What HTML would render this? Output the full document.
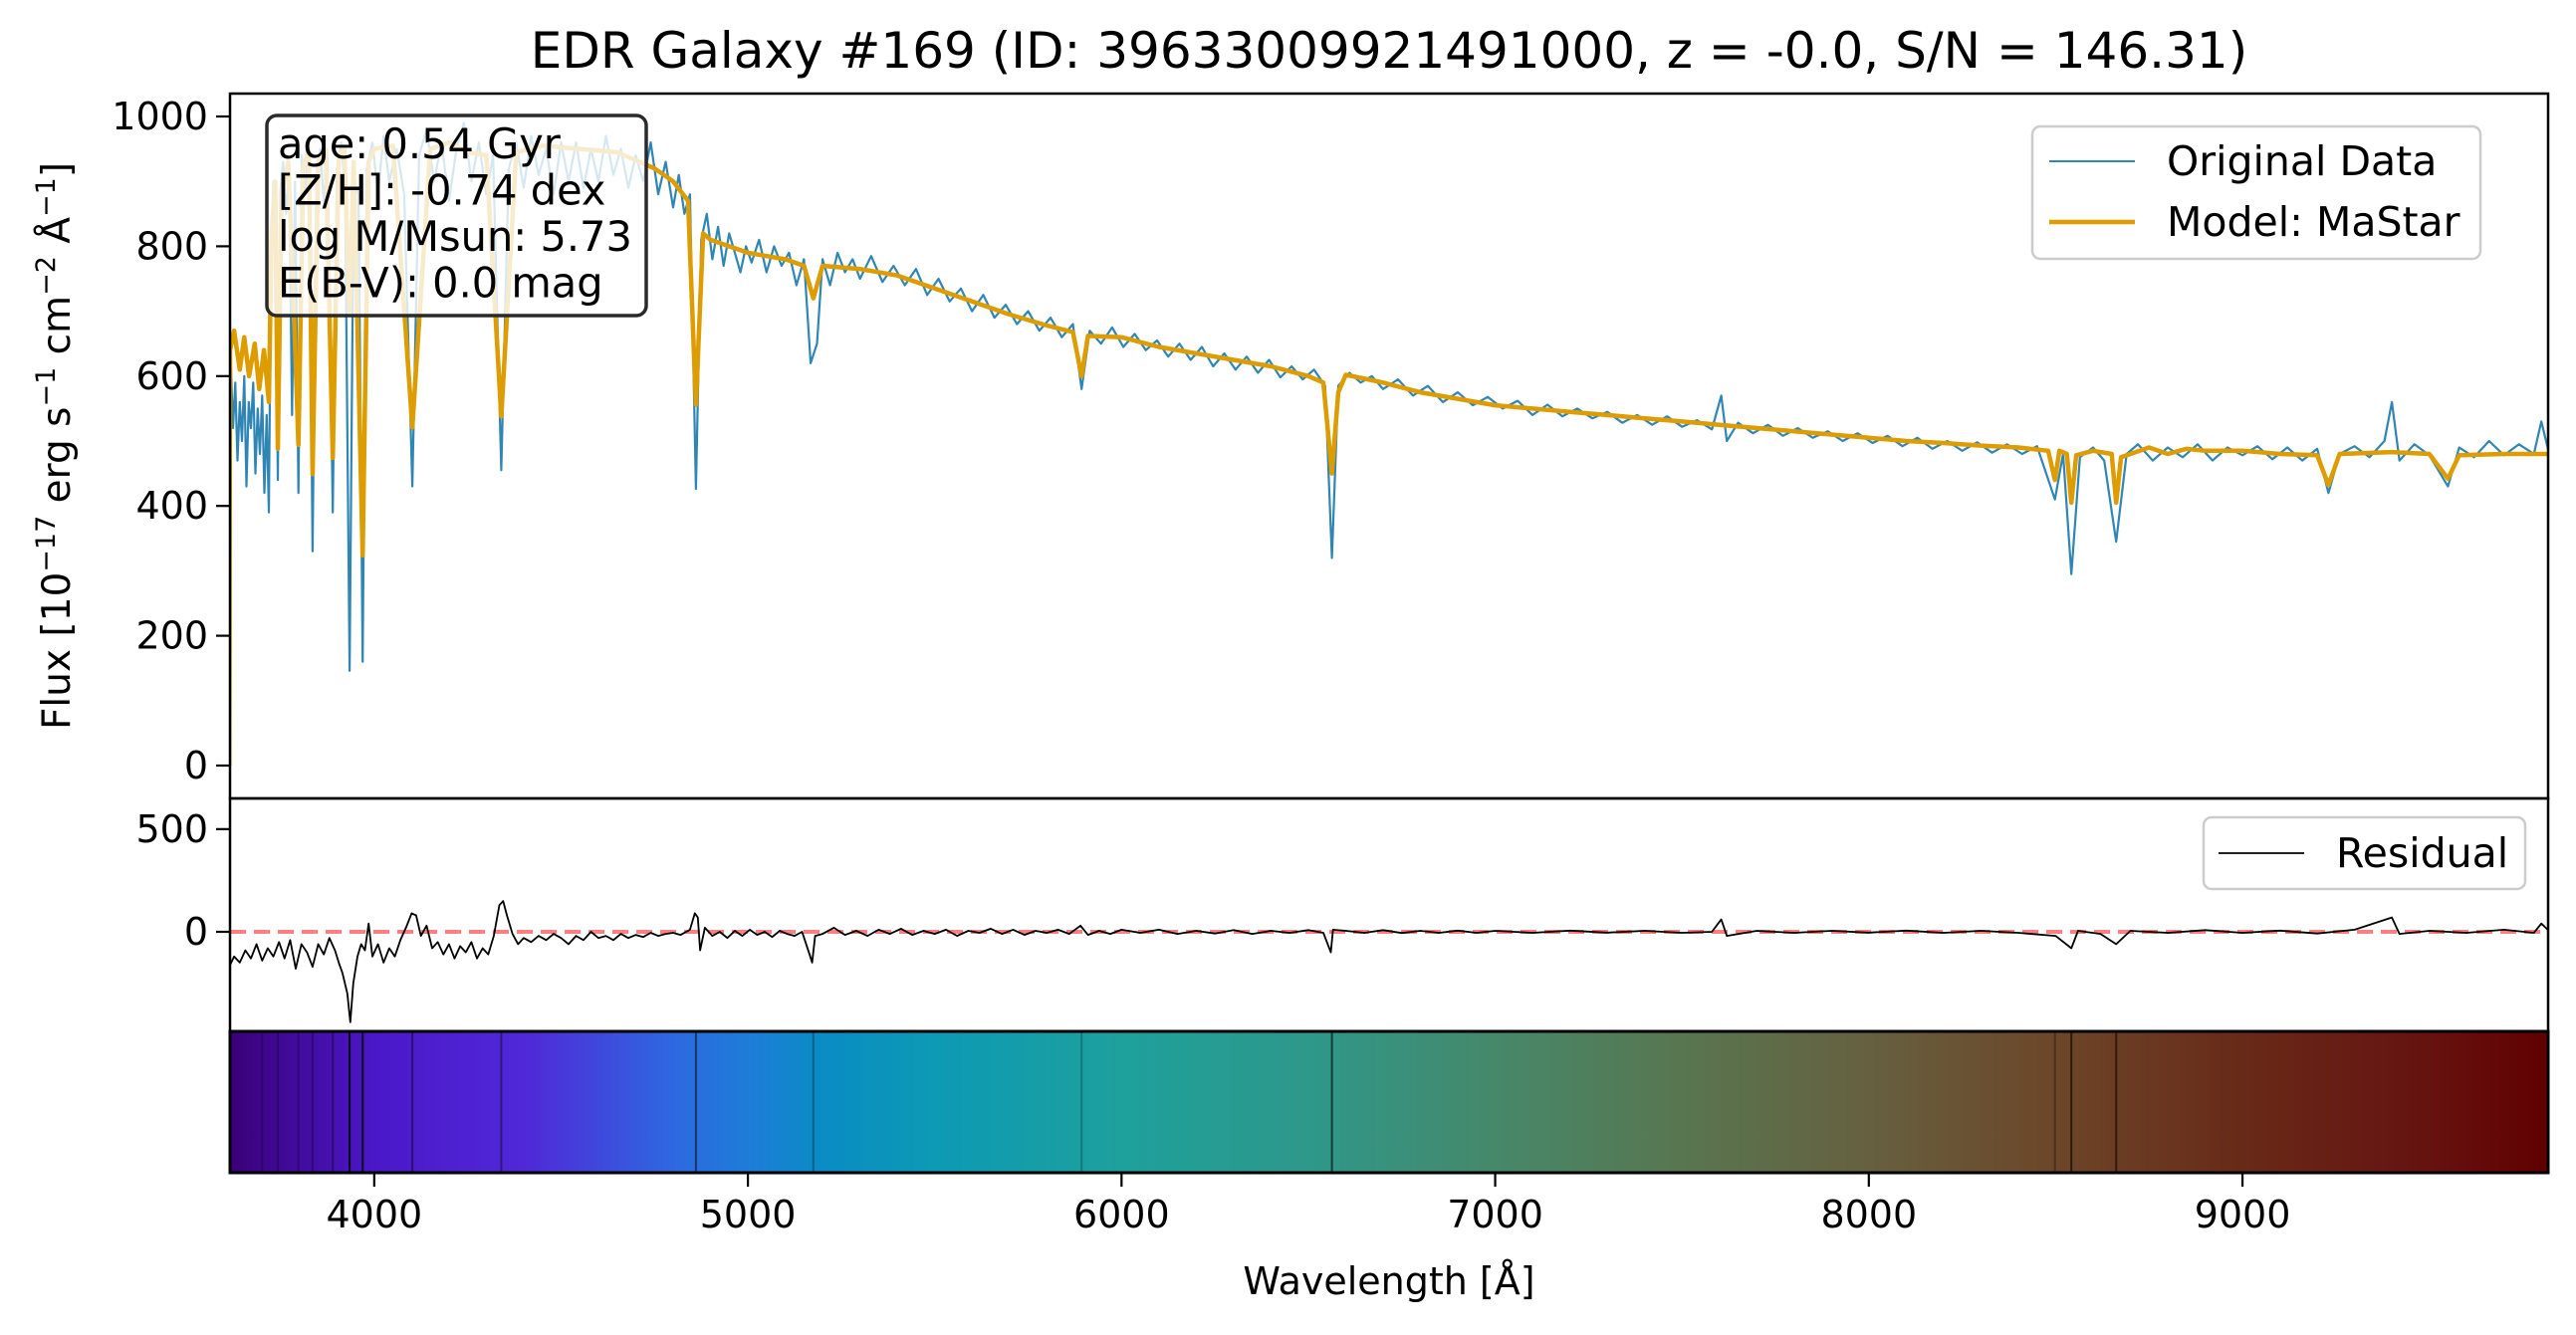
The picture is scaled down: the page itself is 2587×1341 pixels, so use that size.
<!DOCTYPE html>
<html><head><meta charset="utf-8">
<style>
html,body{margin:0;padding:0;background:#fff;}
svg{display:block;font-family:"DejaVu Sans","Liberation Sans",sans-serif;}
</style></head>
<body>
<svg id="chart" width="2587" height="1341" viewBox="0 0 2587 1341" xmlns="http://www.w3.org/2000/svg">
<defs>
<linearGradient id="specgrad" x1="231" x2="2559" y1="0" y2="0" gradientUnits="userSpaceOnUse">
<stop offset="0" stop-color="#3a0078"/>
<stop offset="0.062" stop-color="#4a18c8"/>
<stop offset="0.127" stop-color="#5028d8"/>
<stop offset="0.191" stop-color="#2e68e0"/>
<stop offset="0.223" stop-color="#1e7cd8"/>
<stop offset="0.256" stop-color="#0a8cc4"/>
<stop offset="0.304" stop-color="#0c9ab4"/>
<stop offset="0.385" stop-color="#1ea09c"/>
<stop offset="0.465" stop-color="#2e988a"/>
<stop offset="0.546" stop-color="#46886a"/>
<stop offset="0.626" stop-color="#587650"/>
<stop offset="0.707" stop-color="#666040"/>
<stop offset="0.788" stop-color="#6c4628"/>
<stop offset="0.868" stop-color="#682a18"/>
<stop offset="0.949" stop-color="#661210"/>
<stop offset="1" stop-color="#600000"/>
</linearGradient>
<clipPath id="clipTop"><rect x="231" y="94" width="2328" height="708"/></clipPath>
<clipPath id="clipRes"><rect x="231" y="802" width="2328" height="234"/></clipPath>
</defs>
<text x="1395" y="68" font-size="50" text-anchor="middle">EDR Galaxy #169 (ID: 39633009921491000, z = -0.0, S/N = 146.31)</text>
<g id="topPanel"></g>
<g id="resPanel"></g>
<g id="barPanel"></g>
<g id="xaxis"></g>
<text transform="translate(70,448) rotate(-90)" font-size="39" text-anchor="middle">Flux [10<tspan baseline-shift="super" font-size="27">−17</tspan> erg s<tspan baseline-shift="super" font-size="27">−1</tspan> cm<tspan baseline-shift="super" font-size="27">−2</tspan> Å<tspan baseline-shift="super" font-size="27">−1</tspan>]</text>
<text x="1395" y="1300" font-size="38" text-anchor="middle">Wavelength [Å]</text>
</svg>
<script>
const modelWave=[3612,3614,3625,3640,3652,3665,3680,3692,3705,3718,3725,3735,3742,3752,3770,3785,3797,3810,3825,3835,3850,3870,3889,3905,3920,3934,3945,3969,3985,4000,4050,4102,4150,4200,4250,4300,4340,4380,4450,4550,4650,4750,4800,4840,4861,4880,4900,4950,5000,5050,5100,5150,5175,5200,5300,5400,5500,5600,5700,5800,5870,5893,5910,6000,6100,6200,6300,6400,6500,6540,6563,6580,6600,6700,6800,6900,7000,7100,7200,7300,7400,7500,7600,7700,7800,7900,8000,8100,8200,8300,8400,8480,8498,8510,8530,8542,8555,8600,8650,8662,8675,8750,8800,8850,8900,9000,9100,9200,9230,9260,9400,9500,9550,9580,9700,9820];
const modelFlux=[0,640,670,610,660,600,650,580,640,560,820,900,488,880,930,700,494,920,950,449,930,950,474,940,950,700,930,324,930,950,955,521,950,960,945,940,538,945,955,950,945,920,900,870,556,820,810,800,790,785,780,770,720,770,765,755,735,715,695,678,668,600,662,660,645,635,625,615,600,590,450,575,602,590,575,565,555,550,545,540,535,530,525,520,515,510,505,500,497,493,490,485,440,485,480,405,478,485,480,405,475,490,480,488,485,485,480,478,432,480,483,480,442,478,480,480];
const dataWave=[3612,3616,3622,3628,3634,3640,3646,3652,3658,3664,3670,3676,3682,3688,3694,3700,3706,3712,3718,3724,3730,3736,3742,3748,3756,3764,3772,3780,3788,3797,3806,3815,3825,3835,3845,3855,3865,3875,3889,3900,3912,3922,3934,3945,3958,3969,3980,3995,4010,4025,4040,4060,4080,4102,4120,4140,4160,4180,4200,4220,4240,4260,4280,4300,4318,4340,4360,4380,4400,4420,4440,4460,4480,4500,4520,4540,4560,4580,4600,4620,4640,4660,4680,4700,4720,4740,4760,4780,4800,4815,4830,4845,4861,4875,4890,4905,4920,4935,4950,4965,4980,4995,5010,5030,5050,5070,5090,5110,5130,5150,5168,5185,5200,5220,5240,5260,5280,5300,5330,5360,5390,5420,5450,5480,5510,5540,5570,5600,5630,5660,5690,5720,5750,5780,5810,5840,5870,5893,5915,5945,5975,6005,6035,6065,6095,6125,6155,6185,6215,6245,6275,6305,6335,6365,6395,6425,6455,6485,6515,6545,6563,6580,6610,6640,6670,6700,6740,6780,6820,6860,6900,6940,6980,7020,7060,7100,7140,7180,7220,7260,7300,7340,7380,7420,7460,7500,7540,7580,7605,7620,7650,7690,7730,7770,7810,7850,7890,7930,7970,8010,8050,8090,8130,8170,8210,8250,8290,8330,8370,8410,8450,8498,8520,8542,8565,8600,8630,8662,8690,8720,8760,8800,8840,8880,8920,8960,9000,9040,9080,9120,9160,9200,9230,9260,9300,9340,9380,9400,9420,9460,9500,9550,9580,9620,9660,9700,9740,9780,9800,9820];
const dataFlux=[380,620,520,590,470,560,500,600,430,560,520,590,450,550,480,570,420,540,390,800,900,860,440,880,930,850,920,540,900,420,940,880,960,330,900,950,870,940,390,920,960,880,146,900,880,160,920,960,880,970,900,950,880,430,940,980,900,960,870,950,990,900,960,880,940,455,920,960,890,970,910,950,880,960,900,960,890,950,900,970,910,950,890,940,900,960,880,930,860,910,850,880,426,810,850,780,830,770,820,790,760,800,775,810,760,800,770,790,740,780,620,650,780,740,790,760,780,750,785,745,770,740,765,725,750,715,735,700,725,690,710,680,700,670,690,660,680,580,670,650,675,645,665,640,655,630,650,625,645,615,635,610,630,605,625,598,615,595,610,585,320,585,605,590,600,580,595,570,585,560,575,555,568,550,562,540,556,538,550,535,545,528,540,525,538,522,532,518,570,500,528,512,525,508,520,505,515,500,512,497,508,492,505,488,500,485,498,482,495,480,492,410,480,295,475,490,470,345,480,495,470,490,475,495,470,490,478,492,472,490,470,488,420,480,492,475,500,560,470,495,478,430,490,475,500,478,495,480,530,482];
const residWave=[3612,3625,3640,3655,3670,3685,3700,3715,3730,3745,3760,3775,3790,3805,3820,3835,3850,3865,3880,3895,3905,3915,3928,3936,3944,3955,3965,3975,3985,3995,4010,4025,4040,4055,4070,4085,4100,4112,4125,4140,4155,4170,4185,4200,4215,4230,4245,4260,4275,4290,4305,4320,4335,4345,4355,4370,4385,4400,4420,4440,4460,4480,4500,4520,4540,4560,4580,4600,4620,4640,4660,4680,4700,4720,4740,4760,4780,4800,4820,4845,4858,4866,4872,4885,4905,4925,4945,4965,4985,5005,5025,5045,5065,5085,5105,5125,5145,5165,5172,5180,5200,5230,5260,5290,5320,5350,5380,5410,5440,5470,5500,5530,5560,5590,5620,5650,5680,5710,5740,5770,5800,5830,5860,5890,5910,5940,5970,6000,6050,6100,6150,6200,6250,6300,6350,6400,6450,6500,6540,6560,6566,6600,6650,6700,6750,6800,6850,6900,6950,7000,7100,7200,7300,7400,7500,7580,7605,7620,7700,7800,7900,8000,8100,8200,8300,8400,8500,8542,8560,8620,8662,8700,8800,8900,9000,9100,9200,9300,9400,9420,9500,9600,9700,9780,9800,9820];
const residVal=[-170,-120,-150,-90,-130,-60,-140,-80,-120,-50,-130,-40,-180,-60,-100,-170,-60,-110,-30,-90,-150,-200,-300,-440,-250,-120,-60,-90,40,-120,-60,-150,-80,-120,-40,20,90,80,-20,30,-80,-50,-110,-60,-130,-70,-100,-50,-130,-80,-110,-20,130,150,80,-10,-60,-30,-50,-20,-40,-10,-30,-60,-20,-40,0,-30,-20,-40,-10,-30,-15,-25,-5,-20,-10,-5,-15,10,90,70,-90,20,-20,0,-30,5,-20,10,-15,0,-25,5,-10,-20,0,-110,-150,-20,-10,20,-15,5,-20,10,-10,15,-15,5,-10,10,-20,5,-5,15,-10,10,-15,5,-5,10,-10,30,-15,5,-10,10,-5,10,-10,5,-8,8,-10,5,-5,8,-5,-100,10,5,-5,8,-6,5,-5,6,-5,5,-5,6,-4,5,-5,0,60,-20,5,-5,5,-4,6,-5,5,-5,-20,-80,5,-10,-60,5,-5,8,-5,6,-8,10,70,-10,5,-5,10,-5,40,5];
const colorLines=[3700,3742,3797,3835,3889,3934,3969,4102,4340,4861,5175,5893,6563,8498,8542,8662];
const colorLineStrength=[0.2,0.25,0.25,0.3,0.35,0.9,0.85,0.45,0.4,0.5,0.3,0.25,0.6,0.3,0.6,0.55];
const xTicks=[4000,5000,6000,7000,8000,9000];
const yTicksTop=[0,200,400,600,800,1000];
const yTicksRes=[0,500];

const NS='http://www.w3.org/2000/svg';
const L=231,R=2559,T=94,MID=802,RB=1036,BB=1178;
const xMin=3614,xMax=9818;
function X(w){return L+(w-xMin)/(xMax-xMin)*(R-L);}
function YT(f){return 769-f*0.652;}
function YR(r){return 936-r*0.2063;}
function mk(tag,attrs,parent){const e=document.createElementNS(NS,tag);for(const k in attrs)e.setAttribute(k,attrs[k]);parent.appendChild(e);return e;}
function pathD(ws,vs,fy){let d='';for(let i=0;i<ws.length;i++){d+=(i?'L':'M')+X(ws[i]).toFixed(1)+','+fy(vs[i]).toFixed(1);}return d;}

const topG=document.getElementById('topPanel'),resG=document.getElementById('resPanel'),barG=document.getElementById('barPanel'),xaG=document.getElementById('xaxis');
const gt=mk('g',{'clip-path':'url(#clipTop)'},topG);
const dl=mk('path',{d:pathD(dataWave,dataFlux,YT),fill:'none',stroke:'#2f86b4','stroke-width':2.2,'stroke-linejoin':'round'},gt);


const ml=mk('path',{d:pathD(modelWave,modelFlux,YT),fill:'none',stroke:'#dd9c00','stroke-width':4.5,'stroke-linejoin':'round'},gt);


mk('rect',{x:L,y:T,width:R-L,height:MID-T,fill:'none',stroke:'#000','stroke-width':2.5},topG);
yTicksTop.forEach(v=>{
  const y=YT(v);
  mk('line',{x1:L-14,x2:L,y1:y,y2:y,stroke:'#000','stroke-width':2.2},topG);
  const t=mk('text',{x:L-22,y:y+13,'font-size':38,'text-anchor':'end'},topG);t.textContent=v;
  
  
});
const ib=mk('g',{},topG);


mk('rect',{x:268,y:116,width:381,height:201,rx:10,fill:'#fff','fill-opacity':0.8,stroke:'#2a2a2a','stroke-width':3.5},ib);
['age: 0.54 Gyr','[Z/H]: -0.74 dex','log M/Msun: 5.73','E(B-V): 0.0 mag'].forEach((s,i)=>{const t=mk('text',{x:279,y:159+i*46.5,'font-size':41.5},ib);t.textContent=s;});
const lg=mk('g',{},topG);


mk('rect',{x:2041,y:127,width:450,height:133,rx:8,fill:'#fff','fill-opacity':0.8,stroke:'#cccccc','stroke-width':2.5},lg);
mk('line',{x1:2058,x2:2144,y1:162,y2:162,stroke:'#2f86b4','stroke-width':2},lg);
mk('line',{x1:2058,x2:2144,y1:223,y2:223,stroke:'#dd9c00','stroke-width':4.5},lg);
let t1=mk('text',{x:2176,y:176,'font-size':41},lg);t1.textContent='Original Data';
let t2=mk('text',{x:2176,y:237,'font-size':41},lg);t2.textContent='Model: MaStar';

const gr=mk('g',{'clip-path':'url(#clipRes)'},resG);
mk('line',{x1:L,x2:R,y1:YR(0),y2:YR(0),stroke:'#ff0000','stroke-opacity':0.5,'stroke-width':4,'stroke-dasharray':'16,8'},gr);
const rl=mk('path',{d:pathD(residWave,residVal,YR),fill:'none',stroke:'#000','stroke-width':1.8,'stroke-linejoin':'round'},gr);


mk('rect',{x:L,y:MID,width:R-L,height:RB-MID,fill:'none',stroke:'#000','stroke-width':2.5},resG);
yTicksRes.forEach(v=>{
  const y=YR(v);
  mk('line',{x1:L-14,x2:L,y1:y,y2:y,stroke:'#000','stroke-width':2.2},resG);
  const t=mk('text',{x:L-22,y:y+13,'font-size':38,'text-anchor':'end'},resG);t.textContent=v;
  
  
});
const rlg=mk('g',{},resG);


mk('rect',{x:2213,y:821,width:323,height:72,rx:8,fill:'#fff','fill-opacity':0.8,stroke:'#cccccc','stroke-width':2.5},rlg);
mk('line',{x1:2228,x2:2314,y1:857,y2:857,stroke:'#000','stroke-width':1.8},rlg);
let t3=mk('text',{x:2346,y:871,'font-size':41},rlg);t3.textContent='Residual';

mk('rect',{x:L,y:RB,width:R-L,height:BB-RB,fill:'url(#specgrad)'},barG);
colorLines.forEach((w,i)=>{
  const ln=mk('line',{x1:X(w),x2:X(w),y1:RB,y2:BB,stroke:'#000','stroke-opacity':colorLineStrength[i],'stroke-width':2},barG);
  
  
});
mk('rect',{x:L,y:RB,width:R-L,height:BB-RB,fill:'none',stroke:'#000','stroke-width':3},barG);
xTicks.forEach(v=>{
  const x=X(v);
  mk('line',{x1:x,x2:x,y1:BB,y2:BB+14,stroke:'#000','stroke-width':2.2},xaG);
  const t=mk('text',{x:x,y:BB+55,'font-size':38,'text-anchor':'middle'},xaG);t.textContent=v;
  
  
});
</script>
</body></html>
